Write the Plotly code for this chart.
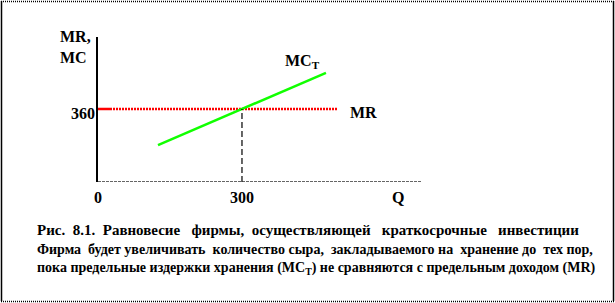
import plotly.graph_objects as go

# Data
mr_value = 360
q_star = 300
mr_q = [0, 500]
mc_q = [125, 475]
mc_val = [182, 538]
x_ticks = [0, 300]
x_tick_text = ["0", "300"]
y_tick_text = "360"
NB = "\u00a0"
caption_lines = [
    ("Рис." + NB + " 8.1." + NB + " Равновесие" + NB * 2 + " фирмы," + NB
     + " осуществляющей" + NB * 2 + " краткосрочные" + NB * 2 + " инвестиции"),
    ("Фирма" + NB + " будет увеличивать" + NB + " количество сыра," + NB + " закладываемого на"
     + NB + " хранение до" + NB + " тех пор,"),
    "пока предельные издержки хранения (MC<sub>T</sub>) не сравняются с предельным доходом (MR)",
]
caption_sizes = [15, 14, 14]

W, H = 615, 303
L, T = 98, 37
PW, PH = 323, 145
XMAX, YMAX = 673, 715

FONT = "Liberation Serif"
fig = go.Figure()

# MR line: short solid part then dotted
fig.add_trace(go.Scatter(x=[mr_q[0], 25], y=[mr_value, mr_value], mode="lines",
                         line=dict(color="#ff0000", width=2.5), hoverinfo="skip"))
fig.add_trace(go.Scatter(x=[25, mr_q[1]], y=[mr_value, mr_value], mode="lines",
                         line=dict(color="#ff0000", width=2.5, dash="2px,1px"), hoverinfo="skip"))
# MC_T line
fig.add_trace(go.Scatter(x=mc_q, y=mc_val, mode="lines",
                         line=dict(color="#11ff00", width=2.5), hoverinfo="skip"))
# dashed vertical line at Q*
fig.add_trace(go.Scatter(x=[q_star, q_star], y=[0, mr_value], mode="lines",
                         line=dict(color="black", width=1.2, dash="6px,3px"), hoverinfo="skip"))

# x axis line (dotted)
fig.add_shape(type="line", xref="x domain", yref="y", x0=0, x1=1, y0=0, y1=0,
              line=dict(color="#333333", width=1.5, dash="3px,1px"))


def px_x(px):
    return (px - L) / PW


def px_y(py):
    return (H - py - (H - T - PH)) / PH


# frame
fig.add_shape(type="line", xref="paper", yref="paper", x0=px_x(1.5), x1=px_x(1.5),
              y0=px_y(301), y1=px_y(1), line=dict(color="black", width=1.5))
fig.add_shape(type="line", xref="paper", yref="paper", x0=px_x(613.5), x1=px_x(613.5),
              y0=px_y(301), y1=px_y(1), line=dict(color="black", width=1.5))
fig.add_shape(type="line", xref="paper", yref="paper", x0=px_x(1), x1=px_x(614),
              y0=px_y(1.5), y1=px_y(1.5), line=dict(color="black", width=1.5, dash="1px,1px"))
fig.add_shape(type="line", xref="paper", yref="paper", x0=px_x(1), x1=px_x(614),
              y0=px_y(301.5), y1=px_y(301.5), line=dict(color="black", width=1.5, dash="1px,1px"))

bold = dict(family=FONT, size=16, color="black")

for xv, xt in zip(x_ticks, x_tick_text):
    fig.add_annotation(x=xv, y=0, text=f"<b>{xt}</b>", showarrow=False, xref="x", yref="y",
                       yanchor="middle", yshift=-15, font=bold)
fig.add_annotation(x=625, y=0, text="<b>Q</b>", showarrow=False, yanchor="middle", yshift=-15, font=bold)
fig.add_annotation(x=0, y=mr_value, text=f"<b>{y_tick_text}</b>", showarrow=False, xanchor="right",
                   xshift=-1, yanchor="middle", yshift=-5, font=bold)
fig.add_annotation(x=0, y=YMAX, text="<b>MR,</b><br><b>MC</b>", showarrow=False, xanchor="right",
                   yanchor="top", xshift=-5, yshift=11, align="left", font=bold)
fig.add_annotation(x=mr_q[1], y=mr_value, text="<b>MR</b>", showarrow=False, xanchor="left",
                   xshift=10, yanchor="middle", yshift=-4, font=bold)
fig.add_annotation(x=mc_q[1], y=mc_val[1], text="<b>MC<sub>T</sub></b>", showarrow=False,
                   xanchor="right", xshift=-4, yanchor="bottom", yshift=0, font=bold)

cap_y = [230, 249, 268]
for line, cy, fs in zip(caption_lines, cap_y, caption_sizes):
    fig.add_annotation(xref="paper", yref="paper", x=px_x(35), y=px_y(cy), text=f"<b>{line}</b>",
                       showarrow=False, xanchor="left", yanchor="middle",
                       font=dict(family=FONT, size=fs, color="black"))

fig.update_layout(
    width=W, height=H, margin=dict(l=L, r=W - L - PW, t=T, b=H - T - PH),
    paper_bgcolor="white", plot_bgcolor="white", showlegend=False,
    xaxis=dict(range=[0, XMAX], showgrid=False, zeroline=False, showticklabels=False,
               showline=False, ticks=""),
    yaxis=dict(range=[0, YMAX], showgrid=False, zeroline=False, showticklabels=False,
               showline=True, linecolor="black", linewidth=1.5, ticks=""),
)
fig.write_html("out.html")
